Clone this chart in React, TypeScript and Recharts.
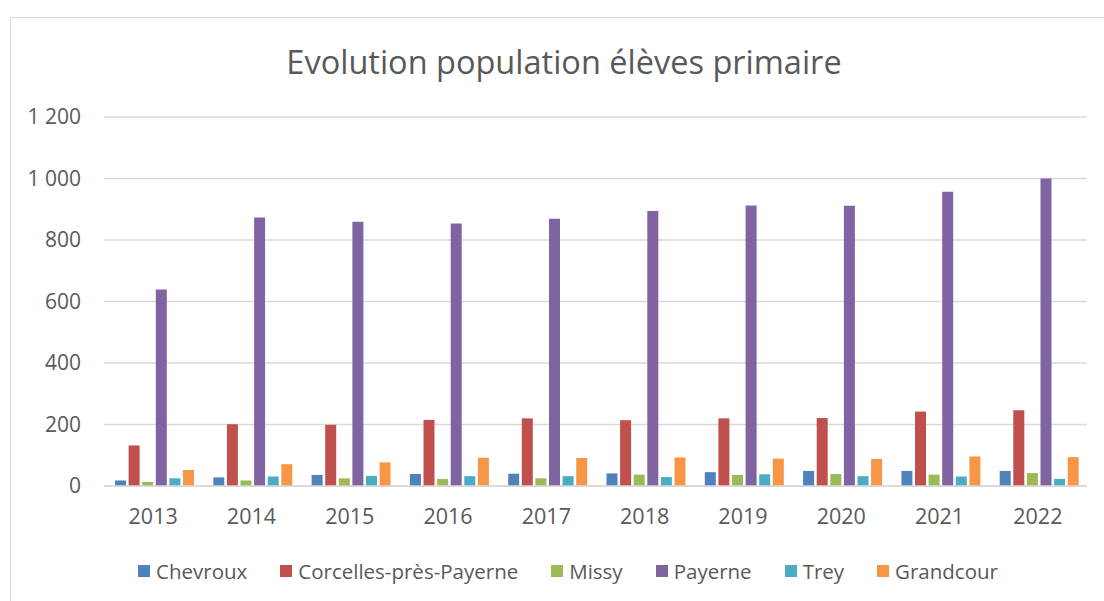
import { BarChart, Bar, XAxis, YAxis, CartesianGrid } from "recharts";

const years = ["2013", "2014", "2015", "2016", "2017", "2018", "2019", "2020", "2021", "2022"];
const chevroux = [18, 28, 36, 39, 40, 41, 45, 49, 49, 49];
const corcelles = [132, 201, 199, 215, 220, 214, 220, 221, 242, 246];
const missy = [13, 18, 25, 23, 25, 37, 36, 39, 37, 42];
const payerne = [639, 873, 859, 854, 869, 894, 912, 911, 957, 1000];
const trey = [25, 31, 33, 32, 32, 29, 38, 32, 31, 23];
const grandcour = [52, 71, 77, 92, 91, 93, 89, 88, 96, 94];
const yTicks = [0, 200, 400, 600, 800, 1000, 1200];

const series = [
  { key: "Chevroux", values: chevroux, color: "#4f81bd" },
  { key: "Corcelles-près-Payerne", values: corcelles, color: "#c0504d" },
  { key: "Missy", values: missy, color: "#9bbb59" },
  { key: "Payerne", values: payerne, color: "#8064a2" },
  { key: "Trey", values: trey, color: "#4bacc6" },
  { key: "Grandcour", values: grandcour, color: "#f79646" },
];

const data = years.map((y, i) => {
  const row: Record<string, string | number> = { year: y };
  series.forEach((s) => (row[s.key] = s.values[i]));
  return row;
});

const fmt = (v: number) => String(v).replace(/\B(?=(\d{3})+(?!\d))/g, " ");

const FONT = "'Open Sans', sans-serif";
const TEXT = "#595959";

export default function App() {
  return (
    <div
      style={{
        position: "absolute",
        left: 0,
        top: 0,
        width: 1104,
        height: 601,
        overflow: "hidden",
        background: "#fff",
        fontFamily: FONT,
      }}
    >
      {/* chart frame, right and bottom edges fall outside the picture */}
      <div
        style={{
          position: "absolute",
          left: 10,
          top: 17,
          width: 1120,
          height: 640,
          border: "1.5px solid #d9d9d9",
        }}
      />
      <div
        style={{
          position: "absolute",
          left: 0,
          width: 1128,
          top: 39,
          textAlign: "center",
          fontSize: 32.5,
          lineHeight: "46px",
          color: TEXT,
        }}
      >
        Evolution population élèves primaire
      </div>
      <div style={{ position: "absolute", left: 0, top: 0 }}>
        <BarChart
          width={1104}
          height={601}
          data={data}
          margin={{ top: 117, right: 17, bottom: 75, left: 0 }}
          barCategoryGap={11}
          barGap={2.6}
        >
          <CartesianGrid vertical={false} stroke="#d9d9d9" strokeWidth={1.5} />
          <XAxis
            dataKey="year"
            height={40}
            tickLine={false}
            tickSize={0}
            tickMargin={23}
            axisLine={{ stroke: "#d9d9d9", strokeWidth: 1.5 }}
            tick={{ fill: TEXT, fontSize: 21.5, fontFamily: FONT }}
          />
          <YAxis
            width={104}
            domain={[0, 1200]}
            ticks={yTicks}
            tickFormatter={fmt}
            axisLine={false}
            tickLine={false}
            tickSize={0}
            tickMargin={23}
            tick={{ fill: TEXT, fontSize: 21, fontFamily: FONT }}
          />
          {series.map((s) => (
            <Bar key={s.key} dataKey={s.key} fill={s.color} isAnimationActive={false} />
          ))}
        </BarChart>
      </div>
      <div
        style={{
          position: "absolute",
          left: 0,
          width: 1136,
          top: 557,
          display: "flex",
          justifyContent: "center",
          gap: 33,
          fontSize: 20.5,
          lineHeight: "28px",
          color: TEXT,
        }}
      >
        {series.map((s) => (
          <div key={s.key} style={{ display: "flex", alignItems: "center" }}>
            <span
              style={{ width: 12, height: 12, background: s.color, marginRight: 6, display: "inline-block" }}
            />
            <span>{s.key}</span>
          </div>
        ))}
      </div>
    </div>
  );
}
